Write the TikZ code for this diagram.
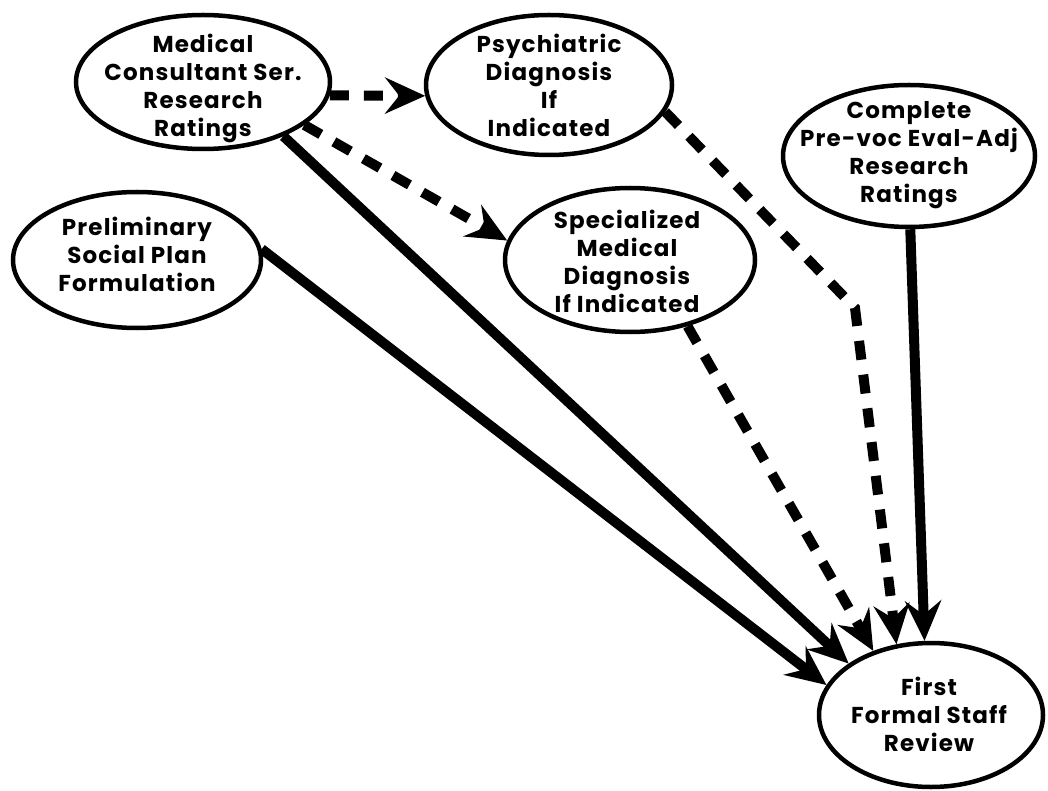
\documentclass[tikz,border=0pt]{standalone}
\usepackage{fontspec}
\newfontfamily\lblfont{Poppins}[LetterSpace=5]
\usetikzlibrary{arrows.meta,shapes.geometric}
\begin{document}
\begin{tikzpicture}[x=1pt,y=-1pt,
  oval/.style={draw, ellipse, line width=4.5pt, inner sep=0pt},
  lbl/.style={align=center, inner sep=0pt,
    font=\lblfont\bfseries\fontsize{23}{28}\selectfont},
  flow/.style={line width=10pt,
    -{Stealth[length=40pt,width=36pt,inset=14pt]}},
  solidflow/.style={flow},
  dashflow/.style={flow, dash pattern=on 19pt off 15pt},
]
\useasboundingbox (0,0) rectangle (1048,791);

% activity ovals
\node[oval, minimum width=254pt, minimum height=134pt] (med)  at (203,82)  {};
\node[oval, minimum width=246pt, minimum height=140pt] (psy)  at (549,85)  {};
\node[oval, minimum width=250pt, minimum height=144pt] (spec) at (630,260) {};
\node[oval, minimum width=252pt, minimum height=142pt] (comp) at (909,156) {};
\node[oval, minimum width=248pt, minimum height=136pt] (pre)  at (137,260) {};
\node[oval, minimum width=224pt, minimum height=144pt] (ffsr) at (931,715) {};

% labels
\node[lbl] (medt)  at (203,88)  {Medical\\Consultant Ser.\\Research\\Ratings};
\node[lbl] (psyt)  at (549,85)  {Psychiatric\\Diagnosis\\If\\Indicated};
\node[lbl] (spect) at (627,261) {Specialized\\Medical\\Diagnosis\\If Indicated};
\node[lbl] (compt) at (909,155) {Complete\\Pre-voc Eval-Adj\\Research\\Ratings};
\node[lbl] (pret)  at (137,254) {Preliminary\\Social Plan\\Formulation};
\node[lbl] (ffsrt) at (929,714) {First\\Formal Staff\\Review};

% connectors
\draw[dashflow]  (med.-6)  -- (psy.185);
\draw[dashflow]  (med.-23) -- (spec.171);
\draw[solidflow] (med.-34) -- (ffsr.148);
\draw[solidflow] (pre.5)   -- (ffsr.164);
\coordinate (bend) at (855,308);
\draw[dashflow]  (psy.-13) -- (bend) -- (ffsr.116);
\draw[dashflow]  (spec.-49) -- (ffsr.132);
\draw[solidflow] (comp.-89) -- (ffsr.95);
\end{tikzpicture}
\end{document}
